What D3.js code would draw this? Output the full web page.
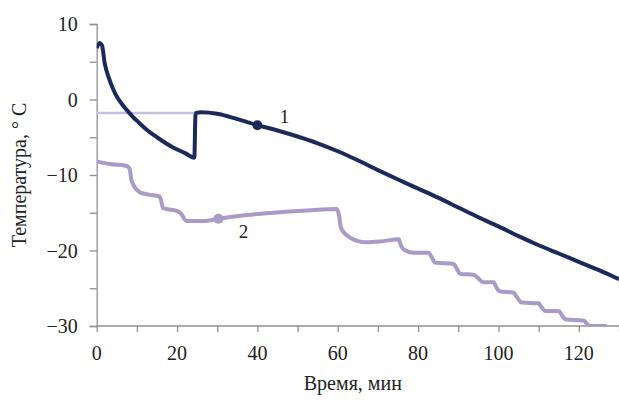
<!DOCTYPE html>
<html>
<head>
<meta charset="UTF-8">
<title>Температура</title>
<script src="https://d3js.org/d3.v7.min.js"></script>
</head>
<body style="margin:0; background:#fff">
<svg width="619" height="401"></svg>
<script>
// curve 1: time (min), temperature (°C)
const t1 = [0, 0.7, 1.3, 2, 3, 4, 5, 6, 7, 8, 9, 10, 12, 15, 19, 22, 24.3, 24.6, 26, 30, 35, 40, 45, 50, 55, 60, 65, 70, 75, 80, 85, 90, 95, 100, 105, 110, 115, 120, 125, 130];
const v1 = [6.8, 7.5, 7.2, 4.8, 2.9, 1.5, 0.4, -0.4, -1.1, -1.7, -2.3, -2.8, -3.8, -5.0, -6.35, -7.1, -7.7, -1.8, -1.7, -1.9, -2.6, -3.4, -4.1, -4.9, -5.8, -6.85, -8.05, -9.35, -10.6, -11.8, -13.0, -14.3, -15.6, -16.8, -18.1, -19.3, -20.4, -21.5, -22.6, -23.8];

// curve 2
const t2 = [0, 3.3, 7.5, 8.2, 8.7, 10.8, 13, 15.5, 16, 16.5, 19.5, 20.8, 22.4, 26.6, 30.3, 35.7, 44, 52.3, 59.8, 60.3, 60.8, 63.1, 67, 70.6, 75.2, 75.7, 76.5, 78.9, 82.6, 83.3, 84.2, 88.9, 89.6, 90.5, 93.8, 94.8, 96.2, 98.8, 99.4, 100.3, 103.8, 104.6, 105.8, 110, 110.7, 111.6, 115, 115.7, 116.6, 121.3, 122, 122.6, 127];
const v2 = [-8.2, -8.55, -8.8, -9.2, -10.8, -12.3, -12.6, -12.8, -13.3, -14.4, -14.7, -15.0, -16.1, -16.1, -15.8, -15.4, -15.0, -14.7, -14.5, -15.3, -17.0, -18.3, -18.9, -18.8, -18.5, -19.3, -19.9, -20.3, -20.3, -20.8, -21.6, -21.8, -22.4, -23.1, -23.2, -23.6, -24.2, -24.2, -24.8, -25.4, -25.6, -26.2, -26.9, -27.0, -27.5, -28.0, -28.0, -28.5, -29.1, -29.3, -29.7, -30, -30];

// light horizontal reference line
const tRef = [0, 25];
const vRef = [-1.8, -1.8];

// marked points and their labels
const marks = [{ t: 40, v: -3.4, label: "1", dx: 27, dy: -8, color: "#1b2a5b" },
               { t: 30.3, v: -15.8, label: "2", dx: 25, dy: 13, color: "#a99bc8" }];

const xTicks = [0, 20, 40, 60, 80, 100, 120];
const yTicks = [10, 0, -10, -20, -30];

const margin = { top: 24, right: 0, bottom: 75, left: 96.7 },
    width = 619 - margin.left - margin.right,
    height = 401 - margin.top - margin.bottom;

const svg = d3.select("svg")
    .style("font-family", '"Liberation Serif"')
    .append("g")
    .attr("transform", `translate(${margin.left},${margin.top})`);

const x = d3.scaleLinear().domain([0, 130]).range([0, width]);
const y = d3.scaleLinear().domain([-30, 10]).range([height, 0]);

svg.append("defs").append("clipPath").attr("id", "clip")
    .append("rect").attr("x", 0).attr("y", -20).attr("width", width).attr("height", height + 20);

const axisColor = "#8f8f8f";

// axes
const xAxis = svg.append("g").attr("transform", `translate(0,${height})`)
    .call(d3.axisBottom(x).tickValues(d3.range(0, 131, 10)).tickSize(6).tickFormat(""));
const yAxis = svg.append("g")
    .call(d3.axisLeft(y).tickValues(d3.range(-30, 11, 5)).tickSize(7).tickFormat(""));
[xAxis, yAxis].forEach(a => {
    a.attr("font-family", null);
    a.select(".domain").attr("stroke", axisColor).attr("stroke-width", 1.3);
    a.selectAll(".tick line").attr("stroke", axisColor).attr("stroke-width", 1.3);
});
xAxis.select(".domain").attr("d", `M0,0H${width + 1}`);

function txt(sel, size) {
    return sel.style("font-family", '"Liberation Serif"').style("font-size", size + "px").attr("fill", "#222");
}

txt(svg.selectAll(".xlab").data(xTicks).enter().append("text")
    .attr("x", d => x(d)).attr("y", height + 34)
    .attr("text-anchor", "middle"), 20)
    .text(d => d);

txt(svg.selectAll(".ylab").data(yTicks).enter().append("text")
    .attr("x", -19).attr("y", d => y(d) + 7)
    .attr("text-anchor", "end"), 20)
    .text(d => d < 0 ? "\u2212" + Math.abs(d) : d);

txt(svg.append("text")
    .attr("x", width / 2 - 5).attr("y", height + 64)
    .attr("text-anchor", "middle"), 20)
    .text("Время, мин");

txt(svg.append("text")
    .attr("transform", `translate(${-71},${height / 2}) rotate(-90)`)
    .attr("text-anchor", "middle"), 20)
    .text("Температура, ° С");

const line = d3.line().x(d => x(d[0])).y(d => y(d[1]));
const plot = svg.append("g").attr("clip-path", "url(#clip)");

plot.append("path").datum(d3.zip(tRef, vRef))
    .attr("fill", "none").attr("stroke", "#c7c0dc").attr("stroke-width", 2.5)
    .attr("d", line);

plot.append("path").datum(d3.zip(t2, v2))
    .attr("fill", "none").attr("stroke", "#a99bc8").attr("stroke-width", 4)
    .attr("stroke-linejoin", "round")
    .attr("d", line.curve(d3.curveMonotoneX));

plot.append("path").datum(d3.zip(t1, v1))
    .attr("fill", "none").attr("stroke", "#1b2a5b").attr("stroke-width", 4)
    .attr("stroke-linejoin", "round")
    .attr("d", line.curve(d3.curveMonotoneX));

svg.selectAll(".mark").data(marks).enter().append("circle")
    .attr("cx", d => x(d.t)).attr("cy", d => y(d.v)).attr("r", 5)
    .attr("fill", d => d.color);

txt(svg.selectAll(".mlab").data(marks).enter().append("text")
    .attr("x", d => x(d.t) + d.dx).attr("y", d => y(d.v) + d.dy + 6)
    .attr("text-anchor", "middle"), 19)
    .text(d => d.label);
</script>
</body>
</html>
